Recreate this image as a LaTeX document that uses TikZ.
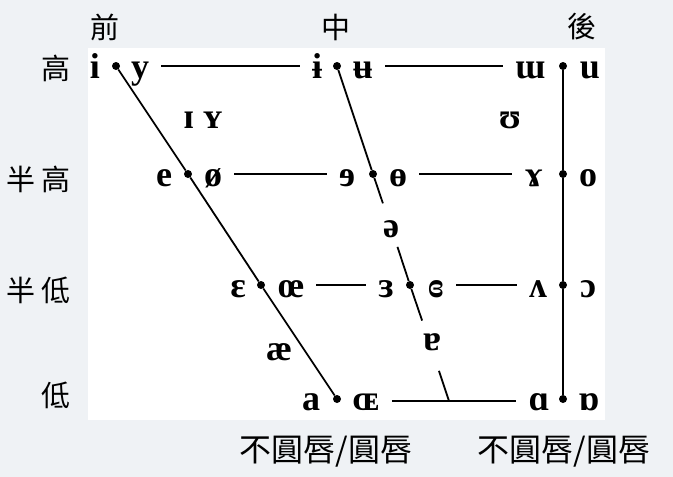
\documentclass[tikz,border=0pt]{standalone}
\usepackage{fontspec}
\setmainfont{Liberation Serif}
\newfontfamily\cjk{Noto Sans CJK TC}
\usetikzlibrary{calc}
\definecolor{sfondo}{RGB}{239,242,245}
\tikzstyle{vowel} = [inner sep=0pt, text height=25pt, text depth=0pt, font=\bfseries\fontsize{36}{40}\selectfont]
\tikzstyle{dot} = [circle, fill=black, inner sep=0pt, minimum size=8pt]
\tikzstyle{guide} = [line width=1.8pt]
\tikzstyle{hline} = [guide, shorten <=12pt, shorten >=12pt]
\tikzstyle{cjklabel} = [inner sep=0pt, font=\cjk\fontsize{29}{30}\selectfont]
\tikzstyle{cjkbottom} = [cjklabel, font=\cjk\fontsize{32}{34}\selectfont]

\begin{document}
\begin{tikzpicture}[x=1pt, y=-1pt]

% Sfondo e riquadro
\useasboundingbox (0,0) rectangle (673,477);
\fill[sfondo] (0,0) rectangle (673,477);
\fill[white] (88,48) rectangle (605,420);

% Etichette
\node (front) [cjklabel] at (105,27) {前};
\node (central) [cjklabel] at (336,27) {中};
\node (back) [cjklabel] at (582,27) {後};
\node (close) [cjklabel, anchor=east] at (71,68) {高};
\node (closemid) [cjklabel, anchor=east] at (71,179) {半\kern6pt 高};
\node (openmid) [cjklabel, anchor=east] at (71,290) {半\kern6pt 低};
\node (open) [cjklabel, anchor=east] at (71,395) {低};
\node (round_front) [cjkbottom] at (326,452) {不圓唇/圓唇};
\node (round_back) [cjkbottom] at (564,452) {不圓唇/圓唇};

% Punti
\node (dot_iy) [dot] at (116,66) {};
\node (dot_eo) [dot] at (188,174) {};
\node (dot_eps) [dot] at (261,285) {};
\node (dot_a) [dot] at (337,399) {};
\node (dot_ibar) [dot] at (337,66) {};
\node (dot_mid) [dot] at (373,174) {};
\node (dot_rev) [dot] at (410,285) {};
\node (dot_u) [dot] at (563,66) {};
\node (dot_o) [dot] at (563,174) {};
\node (dot_open) [dot] at (563,285) {};
\node (dot_back) [dot] at (563,399) {};
\coordinate (c_base) at (449,401);

% Vocali
\node (v_i) [vowel] at (95,66) {i};
\node (v_y) [vowel] at (140,66) {y};
\node (v_ibar) [vowel] at (317,66) {ɨ};
\node (v_ubar) [vowel] at (363,66) {ʉ};
\node (v_turnm) [vowel] at (530,66) {ɯ};
\node (v_u) [vowel] at (590,66) {u};
\node (v_e) [vowel] at (164,174) {e};
\node (v_oslash) [vowel] at (213,174) {ø};
\node (v_reve) [vowel] at (347,174) {ɘ};
\node (v_obar) [vowel] at (398,174) {ɵ};
\node (v_gamma) [vowel] at (534,174) {ɤ};
\node (v_o) [vowel] at (588,174) {o};
\node (v_eps) [vowel] at (238,285) {ɛ};
\node (v_oe) [vowel] at (291,285) {œ};
\node (v_reveps) [vowel] at (386,285) {ɜ};
\node (v_closedeps) [vowel] at (436,285) {ɞ};
\node (v_wedge) [vowel] at (538,285) {ʌ};
\node (v_openo) [vowel] at (588,285) {ɔ};
\node (v_a) [vowel] at (311,398) {a};
\node (v_OE) [vowel] at (366,398) {ɶ};
\node (v_alpha) [vowel] at (539,398) {ɑ};
\node (v_turnalpha) [vowel] at (589,398) {ɒ};
\node (v_IY) [vowel, anchor=base] at (203,128) {ɪ ʏ};
\node (v_upsilon) [vowel, anchor=base] at (510,128) {ʊ};
\node (v_schwa) [vowel, anchor=base] at (391,237) {ə};
\node (v_ae) [vowel, anchor=base] at (279,360) {æ};
\node (v_turna) [vowel, anchor=base] at (432,350) {ɐ};

% Linee orizzontali
\draw [hline] (v_y) -- (v_ibar);
\draw [hline] (v_ubar) -- (v_turnm);
\draw [hline] (v_oslash) -- (v_reve);
\draw [hline] (v_obar) -- (v_gamma);
\draw [hline] (v_oe) -- (v_reveps);
\draw [hline] (v_closedeps) -- (v_wedge);
\draw [guide] ($(v_OE.east)+(12,3)$) -- ($(v_alpha.west)+(-12,3)$);

% Linee oblique e verticale
\draw [guide] (dot_iy) -- (dot_eo) -- (dot_eps) -- (dot_a);
\draw [guide] (dot_ibar) -- (dot_mid) -- ($(dot_ibar)!0.41!(c_base)$);
\draw [guide] ($(dot_ibar)!0.54!(c_base)$) -- (dot_rev) -- ($(dot_ibar)!0.76!(c_base)$);
\draw [guide] ($(dot_ibar)!0.91!(c_base)$) -- (c_base);
\draw [guide] (dot_u) -- (dot_o) -- (dot_open) -- (dot_back);

\end{tikzpicture}
\end{document}
